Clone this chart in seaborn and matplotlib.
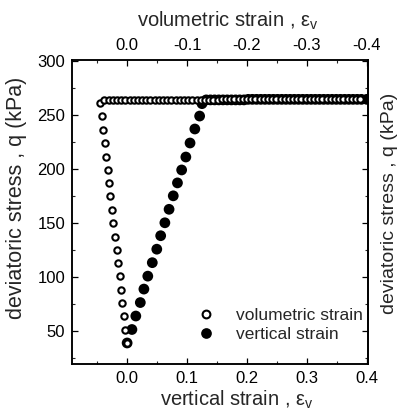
import matplotlib
matplotlib.use("Agg")
import matplotlib.pyplot as plt
from matplotlib.lines import Line2D
from matplotlib.ticker import MultipleLocator, FixedLocator
import seaborn as sns

# Volumetric strain (top axis) against deviatoric stress
vol_strain = [0.001, 0.003, 0.006, 0.008, 0.010, 0.012, 0.0155, 0.017, 0.020,
              0.023, 0.0255, 0.028, 0.030, 0.032, 0.035, 0.037, 0.040, 0.042,
              0.045,
              0.038, 0.031, 0.024, 0.017, 0.010, 0.003, -0.004, -0.011, -0.018,
              -0.025, -0.032, -0.039, -0.046, -0.053, -0.060, -0.067, -0.074,
              -0.081, -0.088, -0.095, -0.102, -0.109, -0.116, -0.123, -0.130,
              -0.137, -0.144, -0.151, -0.158, -0.165, -0.172, -0.179, -0.186,
              -0.193, -0.200, -0.207, -0.214, -0.221, -0.228, -0.235, -0.242,
              -0.249, -0.256, -0.263, -0.270, -0.277, -0.284, -0.291, -0.298,
              -0.305, -0.312, -0.319, -0.326, -0.333, -0.340, -0.347, -0.354,
              -0.361, -0.368, -0.375, -0.382, -0.389]
vol_q = [38.5, 51, 63.5, 76, 88, 100.5, 113, 125, 137, 149.5, 162, 174.5, 187,
         199, 211, 224, 236.5, 249, 261.5,
         263.5, 263.5, 263.5, 263.5, 264, 264, 264, 264, 264, 264, 264, 264,
         264, 264, 264, 264, 264, 264, 264, 264, 264, 264, 264, 264, 264, 264,
         264, 264, 264.5, 264.5, 264.5, 264.5, 264.5, 264.5, 264.5, 264.5,
         264.5, 264.5, 264.5, 264.5, 264.5, 264.5, 264.5, 264.5, 264.5, 264.5,
         264.5, 264.5, 264.5, 264.5, 264.5, 264.5, 264.5, 264.5, 264.5, 264.5,
         264.5, 264.5, 264.5, 264.5, 264.5, 265]

# Vertical strain (bottom axis) against deviatoric stress
vert_strain = [0.000, 0.008, 0.0145, 0.022, 0.028, 0.0345, 0.042, 0.0495, 0.056,
               0.063, 0.070, 0.077, 0.084, 0.091, 0.098, 0.105, 0.113, 0.121,
               0.125,
               0.132, 0.139, 0.146, 0.153, 0.160, 0.167, 0.174, 0.181, 0.188,
               0.195, 0.202, 0.209, 0.216, 0.223, 0.230, 0.237, 0.244, 0.251,
               0.258, 0.265, 0.272, 0.279, 0.286, 0.293, 0.300, 0.307, 0.314,
               0.321, 0.328, 0.335, 0.342, 0.349, 0.356, 0.363, 0.370, 0.377,
               0.384, 0.391, 0.400]
vert_q = [38.5, 51, 63.5, 76, 88.5, 100.5, 113, 125.5, 138, 150, 162.5, 175,
          187, 199, 211, 224, 237, 249, 260.5,
          264, 264, 264, 264, 264, 264, 264, 264, 264, 264, 264.5, 264.5,
          264.5, 264.5, 264.5, 264.5, 264.5, 264.5, 264.5, 264.5, 264.5,
          264.5, 264.5, 264.5, 264.5, 264.5, 264.5, 264.5, 264.5, 264.5,
          264.5, 264.5, 264.5, 264.5, 264.5, 264.5, 264.5, 264.5, 264.5]

bottom_ticks = [0.0, 0.1, 0.2, 0.3, 0.4]
bottom_labels = ["0.0", "0.1", "0.2", "0.3", "0.4"]
top_ticks = [0.0, -0.1, -0.2, -0.3, -0.4]
top_labels = ["0.0", "-0.1", "-0.2", "-0.3", "-0.4"]
q_ticks = [50, 100, 150, 200, 250, 300]

sns.set_theme(style="ticks")
plt.rcParams["font.family"] = ["Liberation Sans", "DejaVu Sans"]
plt.rcParams["mathtext.fontset"] = "custom"
plt.rcParams["mathtext.rm"] = "Liberation Sans"
plt.rcParams["mathtext.it"] = "Liberation Sans"
plt.rcParams["axes.unicode_minus"] = False

fig = plt.figure(figsize=(4.03, 4.16), dpi=100)
ax = fig.add_axes([72 / 403, 1 - 364 / 416, 296 / 403, 304 / 416])

# filled circles: vertical strain on the bottom axis
sns.scatterplot(x=vert_strain, y=vert_q, ax=ax, marker="o", s=60,
                color="black", edgecolor="none", linewidth=0, zorder=3)
ax.set_xlim(-0.092, 0.402)
ax.set_ylim(19, 301)

# open circles: volumetric strain on a reversed top axis
ax_top = ax.twiny()
sns.scatterplot(x=vol_strain, y=vol_q, ax=ax_top, marker="o", s=21,
                color="white", edgecolor="black", linewidth=1.5, zorder=3)
ax_top.set_xlim(0.092, -0.402)

ax.xaxis.set_major_locator(FixedLocator(bottom_ticks))
ax.set_xticklabels(bottom_labels)
ax.xaxis.set_minor_locator(MultipleLocator(0.05))
ax_top.xaxis.set_major_locator(FixedLocator(top_ticks))
ax_top.set_xticklabels(top_labels)
ax_top.xaxis.set_minor_locator(MultipleLocator(0.05))
ax.yaxis.set_major_locator(FixedLocator(q_ticks))
ax.yaxis.set_minor_locator(MultipleLocator(25))

ax_right = ax.secondary_yaxis("right")
ax_right.yaxis.set_major_locator(FixedLocator(q_ticks))
ax_right.yaxis.set_minor_locator(MultipleLocator(25))

for a in (ax, ax_top, ax_right):
    a.tick_params(which="major", direction="in", length=4, width=0.9,
                  labelsize=12, pad=5, colors="black")
    a.tick_params(which="minor", direction="in", length=2.5, width=0.8)
ax_right.tick_params(which="both", labelright=False)
for a in (ax, ax_top):
    for sp in a.spines.values():
        sp.set_linewidth(1.1)
        sp.set_color("black")
ax_right.spines["right"].set_linewidth(1.1)

ax.set_xlabel(r"vertical strain , $\varepsilon_\mathregular{v}$",
              fontsize=14.5, va="center")
ax.xaxis.set_label_coords(0.557, -0.118)
ax_top.set_xlabel(r"volumetric strain , $\varepsilon_\mathregular{v}$",
                  fontsize=14.5, va="center")
ax_top.xaxis.set_label_coords(0.527, 1.13)
ax.set_ylabel("deviatoric stress , q (kPa)", fontsize=15.5, va="center")
ax.yaxis.set_label_coords(17 / 403, 1 - 198 / 416, transform=fig.transFigure)
ax_right.set_ylabel("deviatoric stress , q (kPa)", fontsize=14,
                    va="center", rotation=90)
ax_right.yaxis.set_label_coords(390 / 403, 1 - 203 / 416,
                                transform=fig.transFigure)

handles = [
    Line2D([], [], linestyle="none", marker="o", markersize=5.6,
           markerfacecolor="white", markeredgecolor="black",
           markeredgewidth=1.5),
    Line2D([], [], linestyle="none", marker="o", markersize=7.7,
           markerfacecolor="black", markeredgecolor="none"),
]
ax_top.legend(handles, ["volumetric strain", "vertical strain"],
              loc="lower right", bbox_to_anchor=(1.035, 0.02), frameon=False,
              fontsize=12.5, handletextpad=1.1, labelspacing=0.25,
              handlelength=1.2)

fig.savefig("out.png", dpi=100)
